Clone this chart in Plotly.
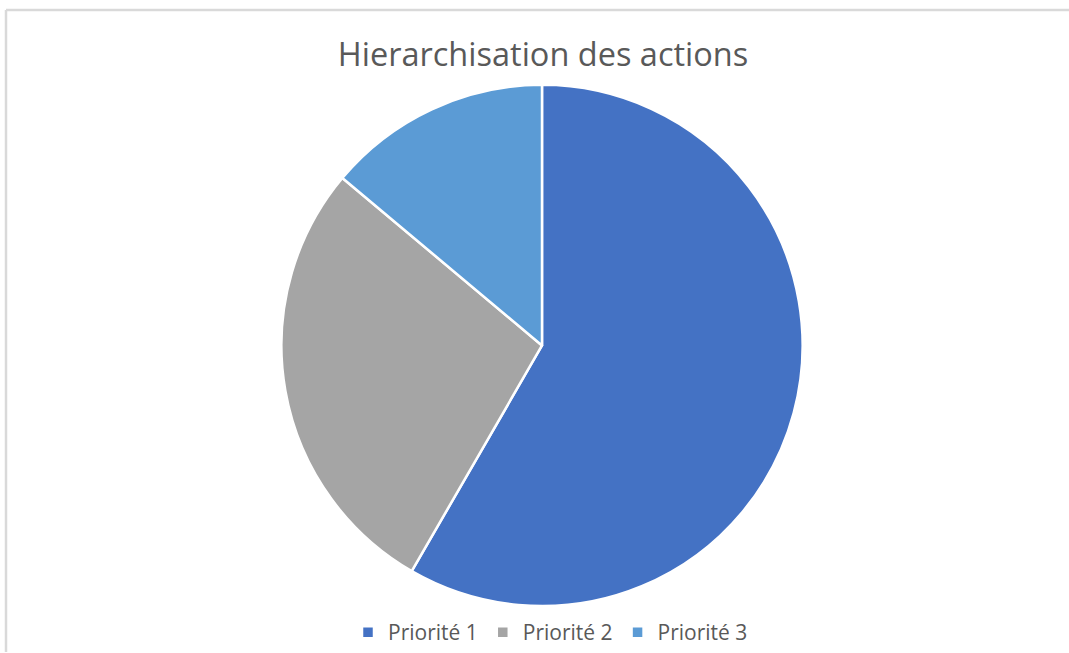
import plotly.graph_objects as go

categories = ["Priorité 1", "Priorité 2", "Priorité 3"]
values = [21, 10, 5]
colors = ["#4472C4", "#A5A5A5", "#5B9BD5"]

W, H = 1069, 653
cx, cy, r = 542, 346, 261

fig = go.Figure(go.Pie(
    labels=categories,
    values=values,
    sort=False,
    direction="clockwise",
    rotation=0,
    marker=dict(colors=colors, line=dict(color="white", width=2.5)),
    textinfo="none",
    hoverinfo="label+value+percent",
    domain=dict(x=[(cx - r) / W, (cx + r) / W], y=[(H - cy - r) / H, (H - cy + r) / H]),
))

fig.update_layout(
    width=W, height=H,
    margin=dict(l=0, r=0, t=0, b=0),
    paper_bgcolor="white",
    font=dict(family="Open Sans, Liberation Sans, sans-serif", color="#595959"),
    title=dict(text="Hierarchisation des actions", x=543 / W, xanchor="center",
               y=1 - 55 / H, yanchor="middle",
               font=dict(size=32.5, color="#595959")),
    legend=dict(orientation="h", x=(W / 2 + 16) / W, xanchor="center", y=(H - 633) / H, yanchor="middle",
                font=dict(size=21, color="#595959"), traceorder="normal",
                itemwidth=30),
    shapes=[
        dict(type="line", xref="paper", yref="paper", x0=6 / W, x1=1.0, y0=1 - 10 / H, y1=1 - 10 / H,
             line=dict(color="#D9D9D9", width=2.5)),
        dict(type="line", xref="paper", yref="paper", x0=6 / W, x1=6 / W, y0=0, y1=1 - 10 / H,
             line=dict(color="#D9D9D9", width=2.5)),
    ],
)

fig.write_html("out.html", config={"displayModeBar": False},
               post_script="document.body.style.margin='0';document.body.style.overflow='hidden';")
